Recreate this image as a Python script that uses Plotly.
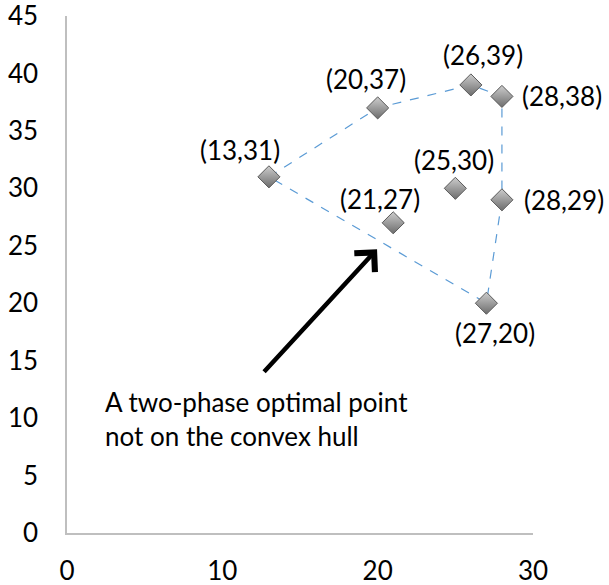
import plotly.graph_objects as go

# ---- data ----
pts_x = [13, 20, 26, 28, 25, 28, 21, 27]
pts_y = [31, 37, 39, 38, 30, 29, 27, 20]
labels = ["(13,31)", "(20,37)", "(26,39)", "(28,38)", "(25,30)", "(28,29)", "(21,27)", "(27,20)"]

hull_x = [13, 20, 26, 28, 28, 27, 13]
hull_y = [31, 37, 39, 38, 29, 20, 31]

arrow_head = (19.96, 24.7)
arrow_tail = (12.6, 13.9)
note_text = "A two-phase optimal point<br>not on the convex hull"
note_pos = (2.3, 9.9)

x_ticks = [0, 10, 20, 30]
y_ticks = [0, 5, 10, 15, 20, 25, 30, 35, 40, 45]

# ---- style (label offsets in px) ----
label_shift = [(-29, 27), (-12, 29), (12, 30), (60, 0), (-1, 28), (62, 0), (-13, 24), (9, -30)]
FONT = "Lato, 'Open Sans', sans-serif"
FS = 26

fig = go.Figure()
fig.add_trace(go.Scatter(
    x=hull_x, y=hull_y, mode="lines",
    line=dict(color="#5B9BD5", width=1.2, dash="dash"),
    hoverinfo="skip", showlegend=False))
fig.add_trace(go.Scatter(
    x=pts_x, y=pts_y, mode="markers",
    marker=dict(symbol="diamond", size=17, color="#cdcdcd",
                gradient=dict(type="vertical", color="#6c6c6c"),
                line=dict(color="#5a5a5a", width=1)),
    showlegend=False))

for x, y, t, (dx, dy) in zip(pts_x, pts_y, labels, label_shift):
    fig.add_annotation(x=x, y=y, text=t, showarrow=False,
                       xshift=dx, yshift=dy, xanchor="center", yanchor="middle",
                       font=dict(family=FONT, size=FS, color="#000000"))

fig.add_annotation(x=arrow_head[0], y=arrow_head[1], ax=arrow_tail[0], ay=arrow_tail[1],
                   axref="x", ayref="y", xref="x", yref="y", text="",
                   showarrow=True, arrowhead=4, arrowsize=1.2, arrowwidth=4.5,
                   arrowcolor="#000000", standoff=0, startstandoff=0)
fig.add_annotation(x=note_pos[0], y=note_pos[1], text=note_text, showarrow=False,
                   xanchor="left", yanchor="middle", align="left",
                   font=dict(family=FONT, size=FS, color="#000000"))

axis_common = dict(showgrid=False, zeroline=False, showline=True,
                   linecolor="#BFBFBF", linewidth=1.5, automargin=False,
                   ticklabeloverflow="allow",
                   tickfont=dict(family=FONT, size=FS, color="#000000"),
                   ticks="")
fig.update_xaxes(range=[0, 30], tickvals=x_ticks, ticklabelstandoff=14, **axis_common)
fig.update_yaxes(range=[0, 45], tickvals=y_ticks, ticklabelstandoff=22, **axis_common)

fig.update_layout(width=609, height=585,
                  margin=dict(l=67, r=76, t=16, b=52),
                  paper_bgcolor="white", plot_bgcolor="white",
                  font=dict(family=FONT))
fig.write_html("out.html", config={"displayModeBar": False},
               post_script="document.body.style.margin='0';document.body.style.overflow='hidden';")
